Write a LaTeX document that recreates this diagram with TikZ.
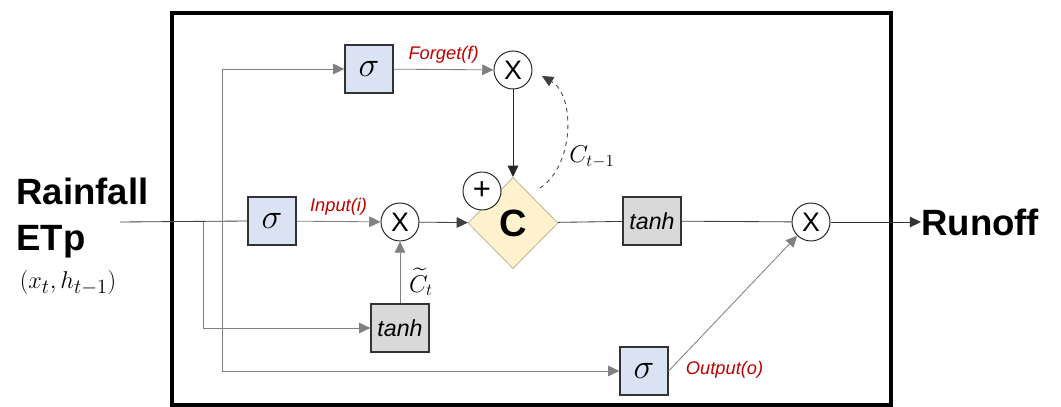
\documentclass[tikz,border=0pt]{standalone}
\usepackage{fontspec}
\setmainfont{Liberation Sans}
\usepackage{amsmath}
\usepackage{tikz}
\usetikzlibrary{arrows.meta,shapes.geometric,calc}

\definecolor{sigblue}{HTML}{DAE3F3}
\definecolor{tanhgray}{HTML}{D9D9D9}
\definecolor{cellyellow}{HTML}{FFF2CC}
\definecolor{cellrim}{HTML}{BFB39A}
\definecolor{labred}{HTML}{C00000}

\tikzset{
  gate/.style={draw=black!80, line width=0.9pt, fill=sigblue, minimum size=1.2cm, inner sep=0pt, font=\fontsize{27}{27}\selectfont},
  act/.style={draw=black!80, line width=0.9pt, fill=tanhgray, minimum width=1.45cm, minimum height=1.2cm, inner sep=0pt, font=\fontsize{16.5}{16.5}\selectfont\itshape},
  mult/.style={circle, draw=black!85, line width=0.7pt, fill=white, minimum size=0.95cm, inner sep=0pt, font=\fontsize{19}{19}\selectfont},
  flow/.style={line width=0.6pt, draw=black!50},
  arr/.style={flow, -{Triangle[length=8pt,width=7.5pt]}},
  gatelabel/.style={text=labred, font=\fontsize{13}{13}\selectfont\itshape},
  big/.style={font=\fontsize{26}{26}\selectfont\bfseries, inner sep=0pt}
}

\begin{document}
\begin{tikzpicture}[x=0.025cm, y=-0.025cm]
    \useasboundingbox (0,0) rectangle (1061,407);
    % outer frame
    \draw[line width=2.8pt] (172,13) rectangle (891,405);

    % inputs and output text
    \node[big, anchor=base west] (rain) at (16,204) {Rainfall};
    \node[big, anchor=base west] (etp) at (16,250) {ETp};
    \node[font=\fontsize{19}{19}\selectfont] (state) at (68,283) {$(x_t, h_{t-1})$};
    \node[big, anchor=west] (runoff) at (921,222) {Runoff};
    \coordinate (in) at (120,222);

    % gates
    \node[gate] (sigf) at (369,69) {$\sigma$};
    \node[gate] (sigi) at (272,221) {$\sigma$};
    \node[gate] (sigo) at (644,371) {$\sigma$};
    \node[act] (tanhc) at (400,328) {tanh};
    \node[act] (tanho) at (652,221) {tanh};

    % cell state
    \node[diamond, aspect=1, draw=cellrim, line width=0.6pt, fill=cellyellow, minimum width=2.25cm, minimum height=2.28cm, inner sep=0pt, font=\fontsize{27}{27}\selectfont\bfseries] (cell) at (513,223) {C};
    \node[mult, font=\fontsize{22}{22}\selectfont] (plus) at (482,191) {+};

    % products
    \node[mult] (xf) at (513,70) {X};
    \node[mult] (xi) at (400,222) {X};
    \node[mult] (xo) at (811,222) {X};

    % branch points
    \coordinate (b1) at (203,222);
    \coordinate (b2) at (222,222);

    % connections
    \draw[line width=0.6pt, draw=black!75] (in) -- (sigi.west);
    \draw[arr] (b1) |- (tanhc.west);
    \draw[arr] (b2 |- sigf.west) -- (sigf.west);
    \draw[arr] (b2 |- sigf.west) |- (sigo.west);
    \draw[arr] (sigf) -- node[gatelabel, above=1pt] (lf) {Forget(f)} (xf);
    \draw[arr] (sigi) -- node[gatelabel, above=1pt] (li) {Input(i)} (xi);
    \draw[arr] (tanhc) -- (xi);
    \node[font=\fontsize{18}{18}\selectfont] (lc) at (421,282) {$\widetilde{C}_t$};
    \draw[arr, draw=black!85] (xf) -- (cell);
    \draw[arr, draw=black!75] (xi) -- (cell);
    \draw[flow, draw=black!75] (cell) -- (tanho) -- (xo);
    \draw[arr] (sigo.east) -- (xo.south west);
    \node[gatelabel, anchor=west] (lo) at (681,370) {Output(o)};
    \draw[arr, draw=black!80] (xo) -- (runoff.west);

    % previous cell state
    \draw[dashed, line width=0.6pt, draw=black!75, -{Triangle[length=8pt,width=7.5pt]}] (540,188) .. controls (575,165) and (575,95) .. (542,76);
    \node[font=\fontsize{18}{18}\selectfont] (cprev) at (592,157) {$C_{t-1}$};
  \end{tikzpicture}
\end{document}
